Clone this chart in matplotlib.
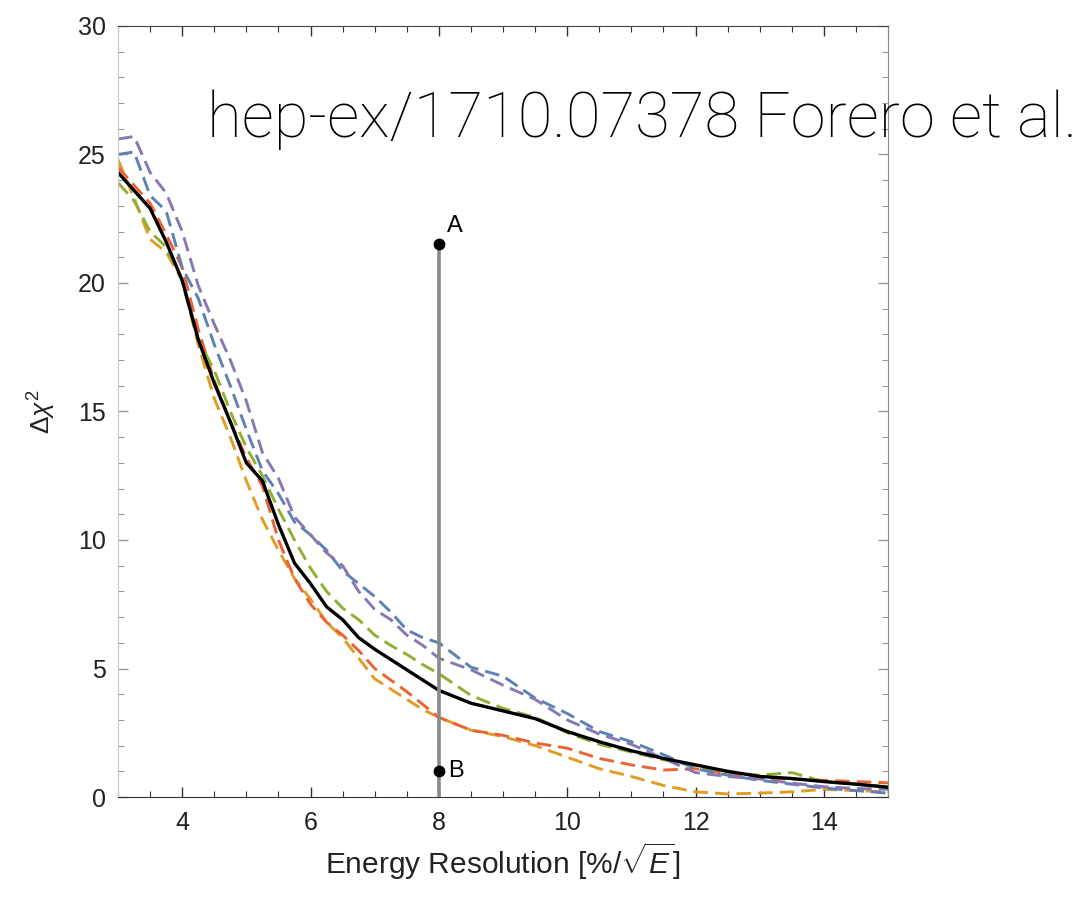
import matplotlib
matplotlib.use('Agg')
import matplotlib.pyplot as plt
from matplotlib.ticker import MultipleLocator

plt.rcParams['font.family'] = ['Liberation Sans', 'DejaVu Sans']
plt.rcParams['mathtext.fontset'] = 'custom'
plt.rcParams['mathtext.rm'] = 'Liberation Sans'
plt.rcParams['mathtext.it'] = 'Liberation Sans:italic'

# energy resolution grid [%/sqrt(E)]
res = [3, 3.25, 3.5, 3.75, 4, 4.25, 4.5, 4.75, 5, 5.25, 5.5, 5.75, 6, 6.25, 6.5, 6.75,
       7, 7.25, 7.5, 7.75, 8, 8.5, 9, 9.5, 10, 10.5, 11, 11.5, 12, 12.5, 13, 13.5,
       14, 14.5, 15]

# delta chi^2 curves
chi_black = [24.3, 23.6, 22.9, 21.6, 20.1, 17.8, 16.1, 14.6, 13.0, 12.3, 10.6, 9.1, 8.3, 7.4,
             6.9, 6.2, 5.75, 5.35, 4.95, 4.55, 4.15, 3.65, 3.35, 3.05, 2.55, 2.15, 1.8, 1.5,
             1.25, 1.0, 0.8, 0.72, 0.6, 0.5, 0.38]
chi_purple = [25.6, 25.7, 24.3, 23.5, 22.0, 19.9, 18.4, 17.0, 15.4, 13.4, 12.4, 10.9, 10.2,
              9.5, 9.0, 8.0, 7.3, 6.9, 6.3, 5.9, 5.4, 4.95, 4.35, 3.8, 3.0, 2.45, 2.05, 1.5,
              0.95, 0.8, 0.7, 0.54, 0.4, 0.33, 0.3]
chi_blue = [25.0, 25.1, 23.4, 22.8, 20.6, 19.4, 17.6, 16.0, 14.3, 12.7, 11.8, 10.7, 10.2, 9.6,
            8.8, 8.3, 7.8, 7.2, 6.5, 6.2, 6.0, 5.05, 4.7, 3.85, 3.25, 2.55, 2.15, 1.65, 1.1,
            0.85, 0.65, 0.5, 0.35, 0.25, 0.15]
chi_green = [23.9, 23.2, 22.0, 21.4, 20.1, 17.8, 16.6, 15.0, 13.6, 12.5, 11.2, 10.0, 8.9, 8.0,
             7.35, 6.9, 6.3, 5.9, 5.55, 5.15, 4.8, 3.95, 3.45, 3.1, 2.5, 2.05, 1.75, 1.45,
             1.2, 0.95, 0.85, 0.95, 0.6, 0.5, 0.4]
chi_red = [24.5, 23.8, 23.1, 21.9, 20.6, 18.2, 16.2, 14.6, 13.2, 12.1, 10.0, 8.5, 7.5, 6.8,
           6.3, 5.7, 5.0, 4.55, 4.1, 3.6, 3.1, 2.6, 2.4, 2.1, 1.9, 1.5, 1.25, 1.05, 1.1,
           0.9, 0.75, 0.7, 0.65, 0.6, 0.55]
chi_orange = [24.8, 23.3, 21.7, 21.2, 20.1, 17.6, 15.5, 14.0, 12.3, 10.8, 9.6, 8.5, 7.7, 6.8,
              6.2, 5.4, 4.6, 4.2, 3.8, 3.4, 3.1, 2.6, 2.35, 2.0, 1.55, 1.1, 0.8, 0.45, 0.2,
              0.12, 0.15, 0.2, 0.3, 0.25, 0.2]

point_x = 8
point_a = 21.5
point_b = 1.0

fig = plt.figure(figsize=(10.84, 9.02), dpi=100)
ax = fig.add_axes([0.1089, 0.1164, 0.7103, 0.8548])

dash = (0, (5, 2.4))
ax.plot(res, chi_orange, color='#E19C24', lw=2.1, ls=dash)
ax.plot(res, chi_red, color='#EB6235', lw=2.1, ls=dash)
ax.plot(res, chi_green, color='#8FB032', lw=2.1, ls=dash)
ax.plot(res, chi_blue, color='#5E81B5', lw=2.1, ls=dash)
ax.plot(res, chi_purple, color='#8778B3', lw=2.1, ls=dash)
ax.plot(res, chi_black, color='black', lw=2.4)

ax.plot([point_x, point_x], [0, point_a], color='#8a8a8a', lw=2.6, zorder=4)
ax.plot([point_x, point_x], [point_a, point_b], 'o', color='black', ms=7.5, zorder=5)
ax.text(point_x + 0.12, point_a + 0.3, 'A', fontsize=17, va='bottom', ha='left')
ax.text(point_x + 0.15, point_b, 'B', fontsize=17, va='center', ha='left')

ax.set_xlim(3, 15)
ax.set_ylim(0, 30)
ax.xaxis.set_major_locator(MultipleLocator(2))
ax.xaxis.set_minor_locator(MultipleLocator(0.5))
ax.yaxis.set_major_locator(MultipleLocator(5))
ax.yaxis.set_minor_locator(MultipleLocator(1))
ax.tick_params(which='both', direction='in', top=True, right=True,
               labelsize=18, colors='#333333', labelcolor='#222222')
ax.tick_params(axis='x', pad=10)
ax.tick_params(axis='y', pad=9)
ax.tick_params(which='major', length=7, width=1)
ax.tick_params(which='minor', length=4, width=0.8)
ax.tick_params(axis='y', which='both', color='#999999')
ax.spines['left'].set_color('#c8c8c8')
ax.spines['right'].set_color('#888888')
ax.spines['top'].set_color('#444444')
ax.spines['bottom'].set_color('#333333')

ax.set_xlabel(r'Energy Resolution [%/$\sqrt{E}$]', fontsize=21.5, labelpad=4, color='#222222')
ax.set_ylabel(r'$\Delta\chi^2$', fontsize=19, labelpad=14, color='#222222')

fig.text(207 / 1084, 1 - 137 / 902, 'hep-ex/1710.07378 Forero et al.',
         fontsize=45.6, family=['Roboto', 'DejaVu Sans'], fontweight='light',
         va='baseline', ha='left')

fig.savefig('out.png', dpi=100)
